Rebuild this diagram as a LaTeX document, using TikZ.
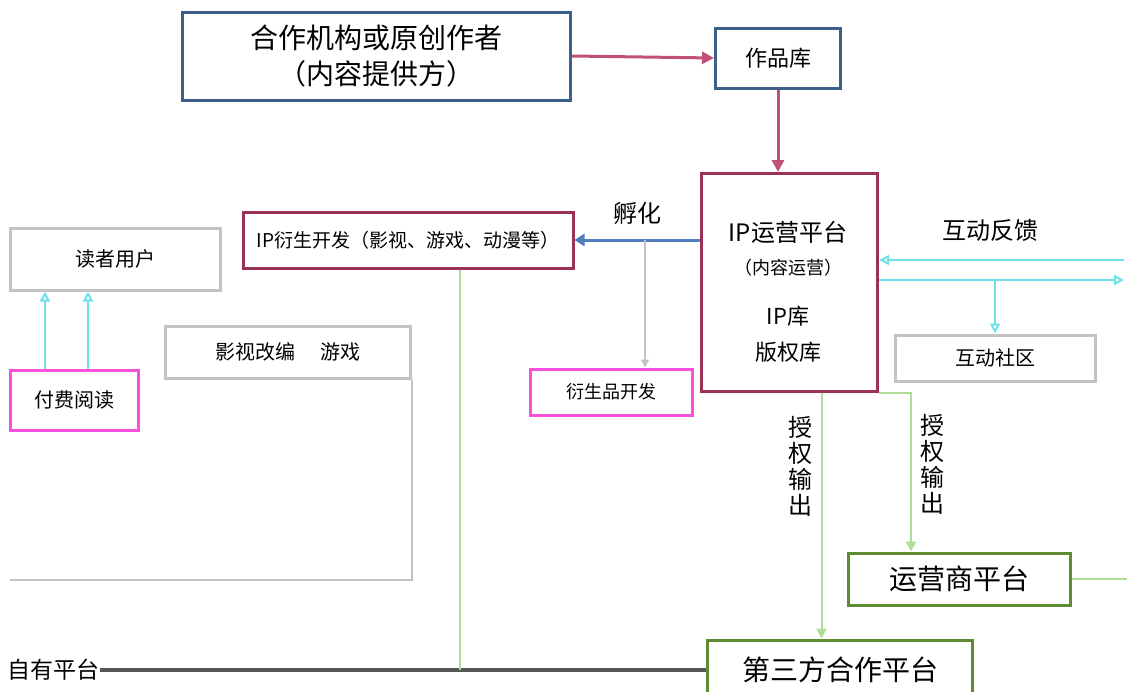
\documentclass[tikz,border=0pt]{standalone}
\usepackage{fontspec}
\setmainfont{Noto Sans CJK SC}
\usetikzlibrary{arrows.meta}
\definecolor{bbox}{RGB}{60,95,140}
\definecolor{parr}{RGB}{192,80,122}
\definecolor{rbox}{RGB}{155,50,85}
\definecolor{barr}{RGB}{80,125,190}
\definecolor{gbox}{RGB}{95,140,50}
\definecolor{lgrn}{RGB}{175,220,150}
\definecolor{cyn}{RGB}{110,225,235}
\definecolor{mag}{RGB}{250,80,220}
\definecolor{gry}{RGB}{195,195,195}
\definecolor{dgry}{RGB}{85,85,85}
\tikzset{
  boxbase/.style={draw, line width=3pt, inner sep=2pt, align=center, fill=white},
  bluebox/.style={boxbase, draw=bbox},
  redbox/.style={boxbase, draw=rbox},
  greenbox/.style={boxbase, draw=gbox},
  magbox/.style={boxbase, draw=mag},
  graybox/.style={boxbase, draw=gry},
  pinkarrow/.style={draw=parr, line width=3pt, -{Triangle[length=12pt,width=12pt]}},
  bluearrow/.style={draw=barr, line width=3pt, -{Triangle[length=10pt,width=12pt]}},
  cyanarrow/.style={draw=cyn, line width=2pt, -{Triangle[length=10pt,width=10pt,open]}},
  greenarrow/.style={draw=lgrn, line width=2pt, -{Triangle[length=10pt,width=10pt]}},
  grayline/.style={draw=gry, line width=1.5pt},
  darkline/.style={draw=dgry, line width=3.5pt},
  lbl/.style={inner sep=0pt, font=\fontsize{24}{28}\selectfont}
}
\begin{document}
\begin{tikzpicture}[x=1pt,y=-1pt]
\useasboundingbox (0,0) rectangle (1127,691);

% main nodes
\node[bluebox, minimum width=388pt, minimum height=88pt,
      font=\fontsize{28}{36}\selectfont] (A) at (376,56)
      {合作机构或原创作者\\（内容提供方）};
\node[bluebox, minimum width=125pt, minimum height=60pt,
      font=\fontsize{22}{26}\selectfont] (B) at (778,58) {作品库};
\node[redbox, minimum width=176pt, minimum height=218pt, anchor=north west,
      font=\fontsize{24}{30}\selectfont, align=center] (C) at (700,172) {};
\node[lbl] (Ct) at (788,232) {IP运营平台};
\node[lbl, font=\fontsize{18}{22}\selectfont] (Cs) at (788,268) {（内容运营）};
\node[lbl, font=\fontsize{22}{26}\selectfont] (C1) at (788,316) {IP库};
\node[lbl, font=\fontsize{22}{26}\selectfont] (C2) at (788,352) {版权库};
\node[redbox, minimum width=330pt, minimum height=56pt,
      font=\fontsize{19}{24}\selectfont] (D) at (408,240)
      {IP衍生开发（影视、游戏、动漫等）};
\node[graybox, minimum width=210pt, minimum height=62pt,
      font=\fontsize{20}{24}\selectfont] (E) at (115,259) {读者用户};
\node[magbox, minimum width=128pt, minimum height=60pt,
      font=\fontsize{20}{24}\selectfont] (F) at (74,400) {付费阅读};
\node[graybox, minimum width=245pt, minimum height=52pt,
      font=\fontsize{20}{24}\selectfont] (G) at (288,352) {影视改编 \quad 游戏};
\node[magbox, minimum width=162pt, minimum height=46pt,
      font=\fontsize{18}{22}\selectfont] (H) at (611,392) {衍生品开发};
\node[graybox, minimum width=200pt, minimum height=46pt,
      font=\fontsize{20}{24}\selectfont] (I) at (995,358) {互动社区};
\node[greenbox, minimum width=222pt, minimum height=52pt,
      font=\fontsize{28}{32}\selectfont] (K) at (959,579) {运营商平台};
\node[greenbox, minimum width=265pt, minimum height=60pt,
      font=\fontsize{28}{32}\selectfont] (J) at (840,670) {第三方合作平台};
\node[lbl, font=\fontsize{23}{28}\selectfont, anchor=east] (L) at (100,670) {自有平台};

% helper coordinates
\coordinate (R1) at (1124,260);
\coordinate (R2) at (1124,280);
\coordinate (hub) at (645,240);
\coordinate (xa) at (45,0);
\coordinate (xb) at (88,0);
\coordinate (gl) at (10,580);
\coordinate (kr) at (1127,579);
\path (C.south) ++(32,0) coordinate (c1);
\path (C.south east) ++(32,0) coordinate (c2);
\path (D.south) ++(52,0) coordinate (d1);

% connectors
\draw[pinkarrow] (A.east) -- (B.west);
\draw[pinkarrow] (B.south) -- (C.north -| B.south);
\draw[bluearrow] (C.west |- hub) -- (D.east |- hub)
  node[midway, above=14pt, lbl, font=\fontsize{24}{28}\selectfont] (fh) {孵化};
\draw[grayline, -{Triangle[length=8pt,width=8pt]}] (hub) -- (hub |- H.north);
\draw[cyanarrow] (R1) -- (C.east |- R1);
\draw[cyanarrow] (C.east |- R2) -- (R2);
\node[lbl, font=\fontsize{24}{28}\selectfont] (hd) at (990,230) {互动反馈};
\draw[cyanarrow] (I.north |- R2) -- (I.north);
\draw[cyanarrow] (F.north -| xa) -- (E.south -| xa);
\draw[cyanarrow] (F.north -| xb) -- (E.south -| xb);
\draw[greenarrow] (c1) -- (c1 |- J.north)
  node[pos=0.3, left=8pt, lbl, align=center, font=\fontsize{24}{26}\selectfont] (s1) {授\\权\\输\\出};
\draw[greenarrow] (C.south east) -- (c2) -- (c2 |- K.north)
  node[pos=0.45, right=8pt, lbl, align=center, font=\fontsize{24}{26}\selectfont] (s2) {授\\权\\输\\出};
\draw[draw=lgrn, line width=2pt] (K.east) -- (kr);
\draw[darkline] (L.east) -- (J.west);
\draw[grayline] (G.south east) |- (gl);
\draw[draw=lgrn, line width=1.5pt] (d1) -- (d1 |- L.east);
\end{tikzpicture}
\end{document}
